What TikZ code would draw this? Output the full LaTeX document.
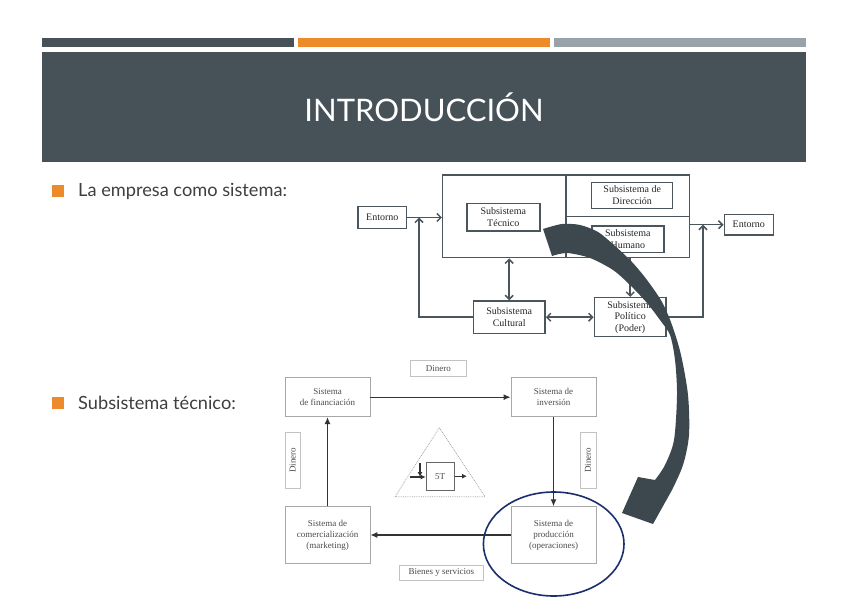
\documentclass[tikz,border=0pt]{standalone}
\usepackage{fontspec}
\setmainfont{Lato}
\newfontfamily\diafont{Liberation Serif}
\usetikzlibrary{arrows.meta}

\definecolor{slate}{HTML}{465258}
\definecolor{barorange}{HTML}{EC8A2C}
\definecolor{bargray}{HTML}{99A1A9}
\definecolor{linegray}{HTML}{4B565C}
\definecolor{boxgray}{HTML}{A8A8A8}
\definecolor{textgray}{HTML}{3F3F3F}
\definecolor{navyring}{HTML}{1B2F6E}
\definecolor{bigarrow}{HTML}{3D484E}

\tikzset{
  sub/.style={draw=linegray, line width=1.5pt, inner sep=0pt, align=center,
    font=\diafont\fontsize{10}{11.5}\selectfont, text=black!85},
  link/.style={draw=linegray, line width=1.5pt, -{Straight Barb[length=4pt,width=8pt]}},
  twolink/.style={draw=linegray, line width=1.5pt,
    {Straight Barb[length=4pt,width=8pt]}-{Straight Barb[length=4pt,width=8pt]}},
  sis/.style={draw=boxgray, line width=0.8pt, inner sep=0pt, align=center,
    font=\diafont\fontsize{9}{11}\selectfont, text=black!70},
  tag/.style={sis, draw=boxgray!70},
  flow/.style={draw=black!80, line width=1.2pt, -{Latex[length=7pt,width=6pt]}},
  bulletbox/.style={fill=barorange, minimum size=12pt, inner sep=0pt},
  point/.style={anchor=base west, inner sep=0pt, text=textgray, font=\fontsize{18.2}{22}\selectfont},
}

\begin{document}
\begin{tikzpicture}[x=1pt,y=-1pt]
  \useasboundingbox[fill=white] (0,0) rectangle (848,599);

  % header
  \fill[slate] (42,38) rectangle (294,47);
  \fill[barorange] (298,38) rectangle (550,47);
  \fill[bargray] (554,38) rectangle (806,47);
  \fill[slate] (42,52) rectangle (806,162);
  \node[text=white, font=\fontsize{31}{36}\selectfont] (title) at (424,107) {INTRODUCCIÓN};

  % bullets
  \node[bulletbox] (b1) at (58,190.5) {};
  \node[point] (p1) at (78,196) {La empresa como sistema:};
  \node[bulletbox] (b2) at (58,403) {};
  \node[point] (p2) at (78,409) {Subsistema técnico:};

  % la empresa como sistema
  \node[sub, minimum width=246.6pt, minimum height=82.7pt] (sys) at (566,216.3) {};
  \draw[linegray, line width=1.5pt] (sys.north) -- (sys.south);
  \draw[linegray, line width=1.5pt] (sys.center) -- (sys.east);
  \node[sub, minimum width=81pt, minimum height=26pt] (dir) at (632.2,195.3) {Subsistema de\\Dirección};
  \node[sub, minimum width=72pt, minimum height=26.7pt] (hum) at (627.8,239.3) {Subsistema\\Humano};
  \node[sub, minimum width=73pt, minimum height=27.7pt] (tec) at (503.3,217.2) {Subsistema\\Técnico};
  \node[sub, minimum width=48.7pt, minimum height=21.6pt] (entl) at (382.3,217.5) {Entorno};
  \node[sub, minimum width=49pt, minimum height=20.7pt] (entr) at (748.8,224.7) {Entorno};
  \node[sub, minimum width=71.7pt, minimum height=32.3pt] (cul) at (509.2,317.2) {Subsistema\\Cultural};
  \node[sub, minimum width=71.7pt, minimum height=39pt] (pol) at (630.2,317.2) {Subsistema\\Político\\(Poder)};
  \coordinate (jl) at (419,217.5);
  \coordinate (jr) at (703,224.7);
  \begin{scope}
    \draw[link] (entl) -- (entl -| sys.west);
    \draw[link] (cul.west) -| (jl);
    \draw[twolink] (cul.north) -- (cul.north |- sys.south);
    \draw[twolink] (cul.east) -- (pol.west);
    \draw[link] (pol.north |- sys.south) -- (pol.north);
    \draw[link] (pol.east) -| (jr);
    \draw[link] (entr.west -| sys.east) -- (entr.west);
  \end{scope}

  % subsistema tecnico
  \node[sis, minimum width=85pt, minimum height=39pt] (fin) at (327.5,397.2) {Sistema\\de financiación};
  \node[sis, minimum width=85pt, minimum height=39pt] (inv) at (553.5,397.2) {Sistema de\\inversión};
  \node[sis, minimum width=85pt, minimum height=56.6pt] (prod) at (553.5,535) {Sistema de\\producción\\(operaciones)};
  \node[sis, minimum width=85pt, minimum height=56.6pt] (com) at (327.5,535) {Sistema de\\comercialización\\(marketing)};
  \node[tag, minimum width=56.7pt, minimum height=16.7pt] (dint) at (438.3,368.3) {Dinero};
  \node[tag, rotate=90, minimum width=56pt, minimum height=15.7pt] (dinl) at (292.8,460.3) {Dinero};
  \node[tag, rotate=90, minimum width=56pt, minimum height=16pt] (dinr) at (588,460) {Dinero};
  \node[tag, minimum width=84pt, minimum height=14.3pt] (bys) at (441.3,572.8) {Bienes y servicios};
  \draw[boxgray, densely dotted, line width=0.8pt] (439.3,427.7) -- (485,496.7) -- (395,496.7) -- cycle;
  \node[sis, draw=black!60, minimum width=28.3pt, minimum height=27.7pt] (t5) at (440.2,476.2) {5T};
  \coordinate (t5in) at (410,477);
  \coordinate (t5top) at (420,463);
  \coordinate (t5out) at (467,476.2);
  \begin{scope}
    \draw[flow] (fin) -- (inv);
    \draw[flow] (inv) -- (prod);
    \draw[flow] (prod) -- (com);
    \draw[flow] (com) -- (fin);
    \draw[flow, -{Latex[length=5pt,width=5pt]}] (t5in) -- (t5in -| t5.west);
    \draw[flow, -{Latex[length=5pt,width=5pt]}] (t5top) -- (t5top |- t5in);
    \draw[flow, -{Latex[length=5pt,width=5pt]}] (t5.east) -- (t5out);
  \end{scope}

  % highlight
  \draw[navyring, line width=1.6pt] (553.7,544) ellipse (70.3 and 52);
  \fill[bigarrow] plot[smooth, tension=0.5] coordinates {(543,229) (562,224) (580,225) (598,232)
      (615,246) (632,262) (647,280) (662,302) (672,325) (681,355) (688,395) (689,435)
      (683,465) (672,490)}
    -- (653,524) -- (622,513) -- (638,477)
    -- plot[smooth, tension=0.5] coordinates {(655,480) (665,465) (674,440) (677,395) (675,360)
      (670,335) (660,320) (647,303) (630,285) (613,270) (590,258) (567,253) (552,256)}
    -- cycle;
\end{tikzpicture}
\end{document}
